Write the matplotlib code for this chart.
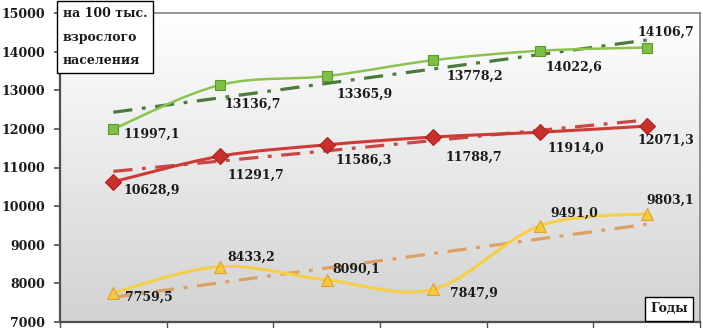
import numpy as np
import matplotlib.pyplot as plt
from matplotlib.path import Path
from matplotlib.patches import PathPatch
from matplotlib.colors import LinearSegmentedColormap

years = [1, 2, 3, 4, 5, 6]
green = [11997.1, 13136.7, 13365.9, 13778.2, 14022.6, 14106.7]
red = [10628.9, 11291.7, 11586.3, 11788.7, 11914.0, 12071.3]
yellow = [7759.5, 8433.2, 8090.1, 7847.9, 9491.0, 9803.1]

# trend lines, end values
trend_x = [1, 6]
green_trend = [12430, 14300]
red_trend = [10900, 12230]
yellow_trend = [7640, 9530]

yticks = [7000, 8000, 9000, 10000, 11000, 12000, 13000, 14000, 15000]


def smooth_path(xs, ys):
    pts = list(zip(xs, ys))
    verts = [pts[0]]
    codes = [Path.MOVETO]
    for i in range(len(pts) - 1):
        p0 = pts[max(i - 1, 0)]
        p1 = pts[i]
        p2 = pts[i + 1]
        p3 = pts[min(i + 2, len(pts) - 1)]
        c1 = (p1[0] + (p2[0] - p0[0]) / 6, p1[1] + (p2[1] - p0[1]) / 6)
        c2 = (p2[0] - (p3[0] - p1[0]) / 6, p2[1] - (p3[1] - p1[1]) / 6)
        verts += [c1, c2, p2]
        codes += [Path.CURVE4] * 3
    return Path(verts, codes)


fmt = lambda v: ('%.1f' % v).replace('.', ',')
font = dict(family='DejaVu Serif', weight='bold', size=9, color='#1a1a1a')

fig = plt.figure(figsize=(7.03, 3.28), dpi=100)
ax = fig.add_axes([60 / 703, 6 / 328, 640 / 703, 309 / 328])

# plot area gradient
cmap = LinearSegmentedColormap.from_list('bg', ['#ffffff', '#d2d2d2'])
ax.imshow(np.linspace(0, 1, 256).reshape(-1, 1), cmap=cmap, aspect='auto',
          extent=[0.5, 6.5, 7000, 15000], origin='upper', zorder=0)

ax.set_xlim(0.5, 6.5)
ax.set_ylim(7000, 15000)

# trends
ax.plot(trend_x, green_trend, color='#4a7a3c', lw=2.3, dashes=(6, 3, 1.2, 3), zorder=2)
ax.plot(trend_x, red_trend, color='#c84848', lw=2.3, dashes=(6, 3, 1.2, 3), zorder=2)
ax.plot(trend_x, yellow_trend, color='#dca064', lw=2.3, dashes=(6, 3, 1.2, 3), zorder=2)

# smoothed series
for ys, col, lw in [(green, '#8cc350', 1.8), (red, '#cc3b36', 2.2), (yellow, '#f5cf46', 2.2)]:
    ax.add_patch(PathPatch(smooth_path(years, ys), facecolor='none', edgecolor=col,
                           lw=lw, zorder=3))

ax.plot(years, green, ls='none', marker='s', ms=6.5, mfc='#7fbf45', mec='#5b9a2e', mew=0.8, zorder=4)
ax.plot(years, red, ls='none', marker='D', ms=8, mfc='#c8302c', mec='#b02020', mew=0.8, zorder=4)
ax.plot(years, yellow, ls='none', marker='^', ms=9, mfc='#f8c83c', mec='#e0a030', mew=0.8, zorder=4)

green_off = [(10, -5), (5, -19), (10, -18), (13, -16), (6, -17), (-9, 15)]
red_off = [(10, -8), (8, -19), (9, -15), (12, -20), (8, -16), (-9, -14)]
yellow_off = [(12, -5), (7, 9), (6, 11), (17, -4), (10, 13), (0, 13)]

for ys, offs in [(green, green_off), (red, red_off), (yellow, yellow_off)]:
    for x, y, o in zip(years, ys, offs):
        ax.annotate(fmt(y), (x, y), xytext=o, textcoords='offset pixels',
                    ha='left', va='center', zorder=5, **font)

ax.set_yticks(yticks)
ax.set_yticklabels([str(t) for t in yticks], fontdict=font)
ax.set_xticks(np.arange(0.5, 7, 1))
ax.set_xticklabels([])
ax.tick_params(axis='y', direction='out', length=4, width=1.2, color='#505050', pad=6.5)
ax.tick_params(axis='x', direction='out', length=6, width=1.0, color='#505050')

for s in ['left', 'bottom']:
    ax.spines[s].set_color('#505050')
    ax.spines[s].set_linewidth(1.6)
for s in ['top', 'right']:
    ax.spines[s].set_color('#808080')
    ax.spines[s].set_linewidth(1.2)

fig.text(63 / 703, 1 - 7 / 328, 'на 100 тыс.\nвзрослого\nнаселения', ha='left', va='top',
         linespacing=2.05, fontdict=font,
         bbox=dict(boxstyle='square,pad=0.45', fc='white', ec='black', lw=1.0))
fig.text(669 / 703, 1 - 309 / 328, 'Годы', ha='center', va='center', fontdict=font,
         bbox=dict(boxstyle='square,pad=0.45', fc='white', ec='black', lw=1.0))

fig.savefig('out.png', dpi=100)
